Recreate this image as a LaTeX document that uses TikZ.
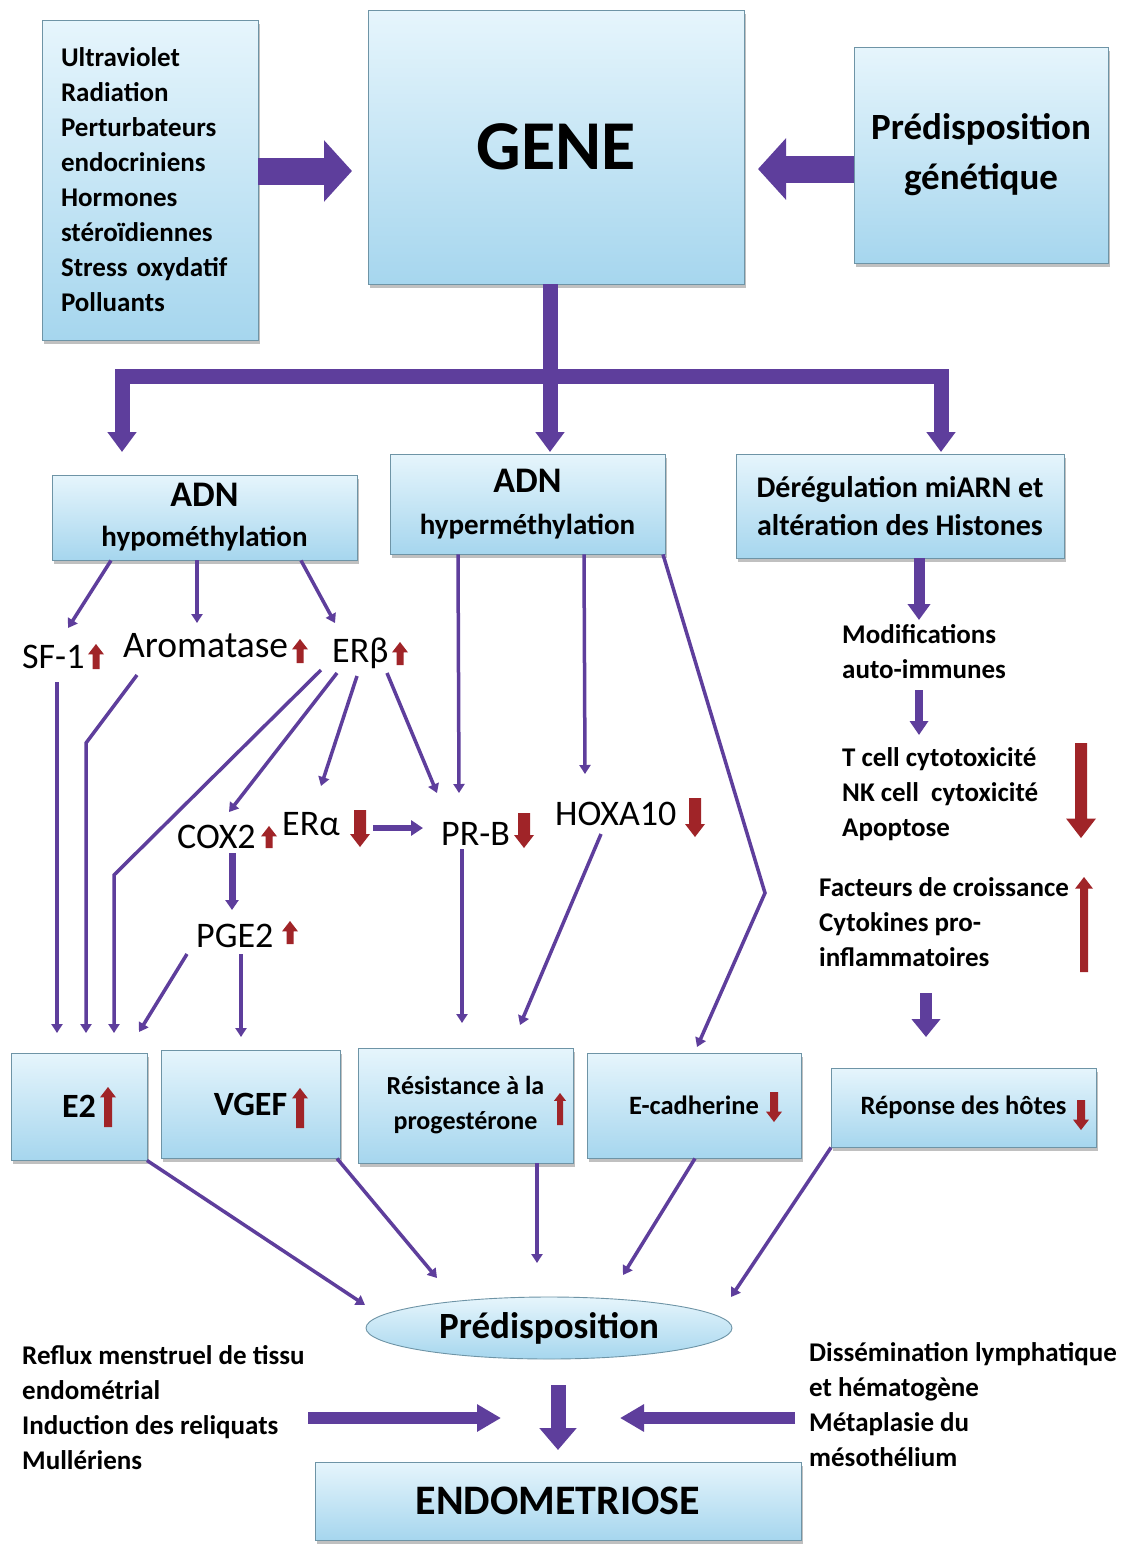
\documentclass[tikz,border=0pt]{standalone}
\usepackage{fontspec}
\setmainfont{Carlito}
\usetikzlibrary{arrows.meta,shadows,shapes.geometric,shadings}
\definecolor{arrp}{RGB}{94,62,156}
\definecolor{arrr}{RGB}{160,36,40}
\definecolor{boxtop}{RGB}{230,245,252}
\definecolor{boxbot}{RGB}{166,214,238}
\definecolor{boxline}{RGB}{110,148,166}
\newcommand\redup[5]{\fill[arrr] ({#1-#4},{#3}) -- ({#1-#4},{#2+1.3*#5}) -- ({#1-#5},{#2+1.3*#5}) -- ({#1},{#2}) -- ({#1+#5},{#2+1.3*#5}) -- ({#1+#4},{#2+1.3*#5}) -- ({#1+#4},{#3}) -- cycle;}
\newcommand\reddown[5]{\fill[arrr] ({#1-#4},{#2}) -- ({#1-#4},{#3-1.3*#5}) -- ({#1-#5},{#3-1.3*#5}) -- ({#1},{#3}) -- ({#1+#5},{#3-1.3*#5}) -- ({#1+#4},{#3-1.3*#5}) -- ({#1+#4},{#2}) -- cycle;}
\begin{document}
\begin{tikzpicture}[x=1pt,y=-1pt,
 box/.style={draw=boxline, line width=0.9pt, top color=boxtop, bottom color=boxbot,
   drop shadow={shadow xshift=2pt,shadow yshift=-4pt,opacity=0.35,fill=black!70},
   font=\bfseries, align=center, inner sep=2pt},
 thinarr/.style={draw=arrp, line width=3.5pt, -{Triangle[length=9pt,width=11pt]}},
 medarr/.style={draw=arrp, line width=6pt, -{Triangle[length=12pt,width=15pt]}},
 colarr/.style={draw=arrp, line width=11pt, -{Triangle[length=16pt,width=22pt]}},
 droparr/.style={draw=arrp, line width=15pt, -{Triangle[length=20pt,width=28pt]}},
 stemline/.style={draw=arrp, line width=15pt},
 bigarr/.style={draw=arrp, line width=27pt, -{Triangle[length=28pt,width=60pt]}},
 botarr/.style={draw=arrp, line width=12pt, -{Triangle[length=24pt,width=26pt]}},
 downarr/.style={draw=arrp, line width=15pt, -{Triangle[length=22pt,width=36pt]}},
 lab/.style={font=\fontsize{36}{40}\selectfont, inner sep=0pt},
 rtext/.style={font=\bfseries\fontsize{27}{35}\selectfont, align=left, inner sep=0pt},
]
\fill[white] (0,0) rectangle (1123,1545);
\useasboundingbox (0,0) rectangle (1123,1545);

% ---------- top boxes
\node[box, minimum width=216pt, minimum height=320pt, text width=178pt, align=left,
  font=\bfseries\fontsize{27}{35}\selectfont] (src) at (150,180)
  {Ultraviolet\\Radiation\\Perturbateurs\\endocriniens\\Hormones\\stéroïdiennes\\Stress oxydatif\\Polluants};
\node[box, minimum width=376pt, minimum height=274pt, font=\bfseries\fontsize{70}{80}\selectfont] (gene) at (556,147) {GENE};
\node[box, minimum width=254pt, minimum height=216pt, font=\bfseries\fontsize{37}{50}\selectfont] (predg) at (981,155) {Prédisposition\\génétique};

\coordinate (gL) at (352,171);
\coordinate (gR) at (758,169);
\draw[bigarr] (src.east |- gL) -- (gL);
\draw[bigarr] (predg.west |- gR) -- (gR);

% ---------- distribution bar
\coordinate (jn) at (550,376);
\coordinate (t1) at (122,452);
\coordinate (t2) at (550,452);
\coordinate (t3) at (941,452);
\draw[stemline] (gene.south -| jn) -- (jn);
\draw[droparr] (jn) -| (t1);
\draw[droparr] (jn) -- (t2);
\draw[droparr] (jn) -| (t3);

% ---------- second row boxes
\node[box, minimum width=305pt, minimum height=85pt, font=\bfseries\fontsize{29}{40}\selectfont] (hypo) at (204.5,517.5)
  {{\fontsize{36}{40}\selectfont ADN}\\hypométhylation};
\node[box, minimum width=275pt, minimum height=100pt, font=\bfseries\fontsize{29}{42}\selectfont] (hyper) at (527.5,504)
  {{\fontsize{36}{40}\selectfont ADN}\\hyperméthylation};
\node[box, minimum width=328pt, minimum height=104pt, font=\bfseries\fontsize{30}{38}\selectfont] (dereg) at (900,506)
  {Dérégulation miARN et\\altération des Histones};

% ---------- middle labels
\node[lab, anchor=base west] (sf1)  at (22,668)  {SF-1};
\node[lab, anchor=base west, font=\fontsize{37.5}{40}\selectfont] (arom) at (123,657) {Aromatase};
\node[lab, anchor=base west] (erb)  at (332,662) {ERβ};
\node[lab, anchor=base west] (era)  at (282,835) {ERα};
\node[lab, anchor=base west] (cox)  at (177,848) {COX2};
\node[lab, anchor=base west] (pge)  at (196,947) {PGE2};
\node[lab, anchor=base west] (prb)  at (441,845) {PR-B};
\node[lab, anchor=base west] (hox)  at (555,825) {HOXA10};

\redup{96}{644}{669}{3.5}{8}
\redup{300}{639}{663}{3.5}{8}
\redup{400}{642}{665}{3.5}{8}
\redup{269}{826}{848}{3.5}{8}
\redup{290}{921}{944}{3.5}{8}
\reddown{360}{810}{847}{6}{10}
\reddown{524}{813}{848}{6}{10}
\reddown{695}{798}{837}{6}{10}

% ---------- right column
\node[rtext, anchor=north west] (mod) at (842,624) {Modifications\\auto-immunes};
\node[rtext, anchor=north west] (tcell) at (842,747) {T cell cytotoxicité\\NK cell~ cytoxicité\\Apoptose};
\node[rtext, anchor=north west] (fact) at (819,877) {Facteurs de croissance\\Cytokines pro-\\inflammatoires};
\reddown{1081}{743}{838}{6}{15}
\redup{1084}{877}{972}{4}{9}

\coordinate (m1) at (919,620);
\coordinate (m2a) at (919,690);
\coordinate (m2) at (919,735);
\coordinate (m3a) at (926,993);
\coordinate (m3) at (926,1037);
\draw[colarr] (dereg.south -| m1) -- (m1);
\draw[draw=arrp, line width=8pt, -{Triangle[length=14pt,width=18pt]}] (m2a) -- (m2);
\draw[draw=arrp, line width=12pt, -{Triangle[length=18pt,width=28pt]}] (m3a) -- (m3);

% ---------- bottom row boxes
\node[box, minimum width=136pt, minimum height=107pt, font=\bfseries\fontsize{34}{40}\selectfont] (e2) at (79,1106.5) {E2};
\node[box, minimum width=179pt, minimum height=108pt, font=\bfseries\fontsize{34}{40}\selectfont] (vgef) at (250.5,1104) {VGEF};
\node[box, minimum width=215pt, minimum height=115pt, font=\bfseries\fontsize{26}{35}\selectfont] (res) at (465.5,1105.5) {Résistance à la\\progestérone};
\node[box, minimum width=214pt, minimum height=105pt, font=\bfseries\fontsize{26.5}{35}\selectfont] (ecad) at (694,1105.5) {E-cadherine};
\node[box, minimum width=265pt, minimum height=79pt, font=\bfseries\fontsize{26.5}{35}\selectfont] (rep) at (963.5,1107.5) {Réponse des hôtes};
\redup{108}{1087}{1127}{4}{8}
\redup{300}{1088}{1128}{4}{8}
\redup{560}{1093}{1125}{3}{6}
\reddown{774}{1092}{1122}{4}{8}
\reddown{1081}{1100}{1130}{4}{8}

% ---------- connectors, middle
\coordinate (sf1in) at (68,628);
\coordinate (aromin) at (197,623);
\coordinate (erbin) at (335,623);
\coordinate (prbin) at (459,793);
\coordinate (hoxin) at (585,774);
\coordinate (ecbend) at (765,893);
\coordinate (ecin) at (697,1047);
\draw[thinarr] ([xshift=-93.5pt]hypo.south) -- (sf1in);
\draw[thinarr] ([xshift=-7.5pt]hypo.south) -- (aromin);
\draw[thinarr] ([xshift=96.5pt]hypo.south) -- (erbin);
\draw[thinarr] ([xshift=-69.5pt]hyper.south) -- (prbin);
\draw[thinarr] ([xshift=56.5pt]hyper.south) -- (hoxin);
\draw[thinarr] ([xshift=135.5pt]hyper.south) -- (ecbend) -- (ecin);

\coordinate (erbo1) at (321,670);
\coordinate (erbo2) at (337,673);
\coordinate (erbo3) at (357,676);
\coordinate (erbo4) at (387,673);
\coordinate (e2bend1) at (114,875);
\coordinate (e2in1) at (114,1033);
\coordinate (coxin) at (229,812);
\coordinate (erain) at (321,786);
\coordinate (prbin2) at (437,793);
\draw[thinarr] (erbo1) -- (e2bend1) -- (e2in1);
\draw[thinarr] (erbo2) -- (coxin);
\draw[thinarr] (erbo3) -- (erain);
\draw[thinarr] (erbo4) -- (prbin2);

\coordinate (aromo) at (137,675);
\coordinate (e2bend2) at (86,743);
\coordinate (e2in2) at (86,1033);
\draw[thinarr] (aromo) -- (e2bend2) -- (e2in2);
\coordinate (sf1o) at (57,682);
\coordinate (e2in3) at (57,1033);
\draw[thinarr] (sf1o) -- (e2in3);

\coordinate (erao) at (373,828);
\coordinate (prbin3) at (423,828);
\draw[medarr] (erao) -- (prbin3);
\coordinate (coxo) at (232,853);
\coordinate (pgein) at (232,910);
\draw[draw=arrp, line width=7pt, -{Triangle[length=10pt,width=13pt]}] (coxo) -- (pgein);

\coordinate (pgeo1) at (187,954);
\coordinate (e2in4) at (139,1032);
\coordinate (pgeo2) at (241,954);
\coordinate (vgefin) at (241,1037);
\draw[thinarr] (pgeo1) -- (e2in4);
\draw[thinarr] (pgeo2) -- (vgefin);

\coordinate (prbo) at (462,849);
\coordinate (resin1) at (462,1023);
\coordinate (hoxo) at (601,834);
\coordinate (resin2) at (520,1025);
\draw[thinarr] (prbo) -- (resin1);
\draw[thinarr] (hoxo) -- (resin2);

% ---------- predisposition
\node[ellipse, draw=boxline, line width=0.9pt, top color=boxtop, bottom color=boxbot,
  minimum width=366pt, minimum height=62pt, inner sep=0pt, font=\bfseries\fontsize{37}{40}\selectfont] (pred) at (549,1328) {Prédisposition};

\coordinate (p1) at (365,1305);
\coordinate (p2) at (437,1278);
\coordinate (p3) at (537,1263);
\coordinate (p4) at (623,1275);
\coordinate (p5) at (731,1297);
\draw[thinarr] ([xshift=68pt]e2.south) -- (p1);
\draw[thinarr] ([xshift=86.5pt]vgef.south) -- (p2);
\draw[thinarr] ([xshift=71.5pt]res.south) -- (p3);
\draw[thinarr] ([xshift=1pt]ecad.south) -- (p4);
\draw[thinarr] ([xshift=-132.5pt]rep.south) -- (p5);

% ---------- bottom
\node[box, minimum width=486pt, minimum height=78pt, font=\bfseries\fontsize{42}{50}\selectfont] (endo) at (558,1501) {ENDOMETRIOSE};
\node[rtext, anchor=north west] (lefttxt) at (22,1345) {Reflux menstruel de tissu\\endométrial\\Induction des reliquats\\Mullériens};
\node[rtext, anchor=north west] (righttxt) at (809,1342) {Dissémination lymphatique\\et hématogène\\Métaplasie du\\mésothélium};

\coordinate (dtop) at (558,1385);
\coordinate (dtip) at (558,1450);
\coordinate (lstart) at (308,1418);
\coordinate (ltip) at (501,1418);
\coordinate (rstart) at (795,1418);
\coordinate (rtip) at (620,1418);
\draw[downarr] (dtop) -- (dtip);
\draw[botarr] (lstart) -- (ltip);
\draw[botarr] (rstart) -- (rtip);
\end{tikzpicture}
\end{document}
